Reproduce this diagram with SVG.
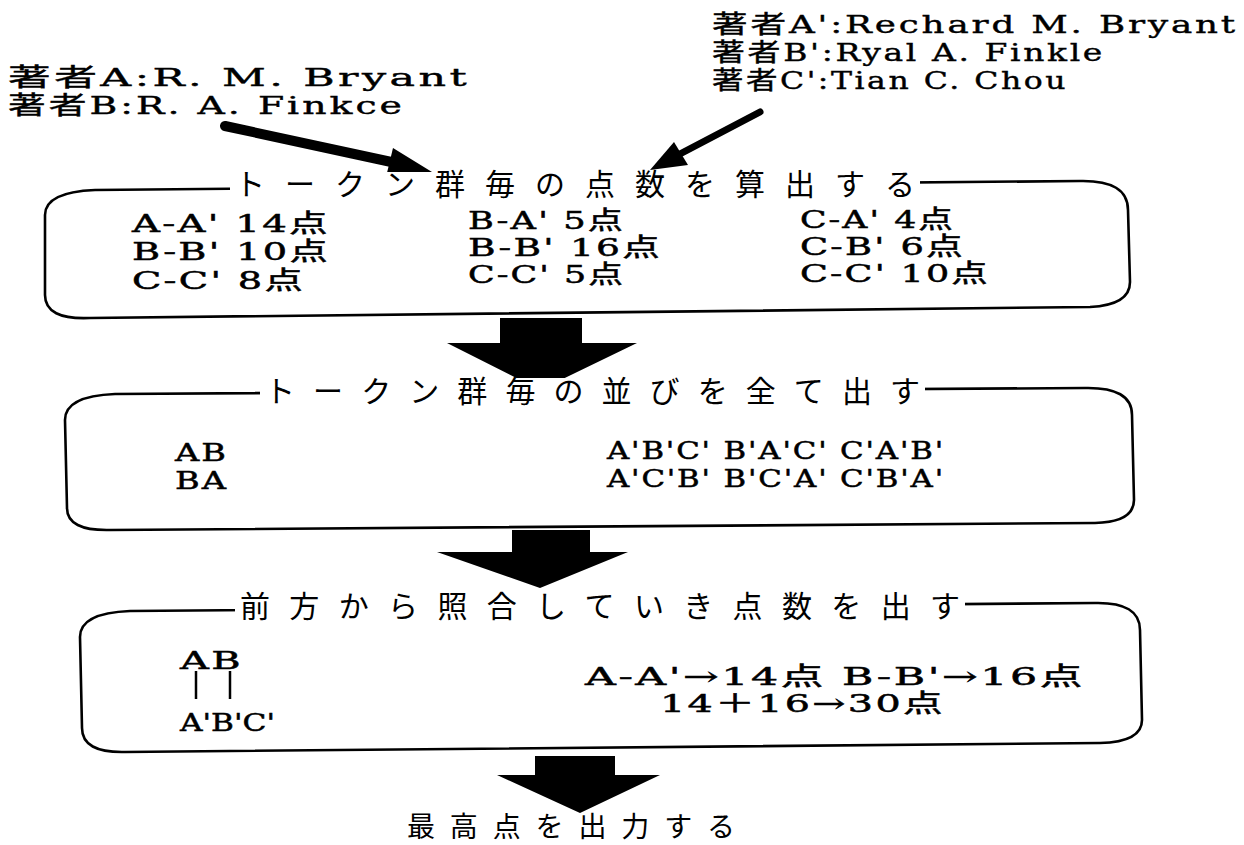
<svg xmlns="http://www.w3.org/2000/svg" width="1244" height="845" viewBox="0 0 1244 845">
<style>
.lat{font-family:"DejaVu Serif","Noto Sans CJK JP",serif;font-size:25px;fill:#000;stroke:#000;stroke-width:0.5;letter-spacing:1.5px}
.top{font-family:"DejaVu Serif","Noto Sans CJK JP",serif;font-size:25px;fill:#000;stroke:#000;stroke-width:0.4;letter-spacing:2px}
.ttl{font-family:"Noto Sans CJK JP",sans-serif;font-size:30px;fill:#000}
.box{fill:none;stroke:#000;stroke-width:2.6}
.gap{fill:#fff}
.blk{fill:#000}
</style>
<rect width="1244" height="845" fill="#fff"/>
<g id="authors-left">
<text class="top" x="8" y="86" textLength="462" lengthAdjust="spacingAndGlyphs">著者A:R. M. Bryant</text>
<text class="top" x="8" y="114" textLength="397" lengthAdjust="spacingAndGlyphs">著者B:R. A. Finkce</text>
</g>
<g id="authors-right">
<text class="top" x="712" y="33" textLength="526" lengthAdjust="spacingAndGlyphs">著者A':Rechard M. Bryant</text>
<text class="top" x="712" y="61" textLength="393" lengthAdjust="spacingAndGlyphs">著者B':Ryal A. Finkle</text>
<text class="top" x="712" y="89" textLength="356" lengthAdjust="spacingAndGlyphs">著者C':Tian C. Chou</text>
</g>
<g id="connectors">
<line x1="225" y1="126" x2="396" y2="163" stroke="#000" stroke-width="10" stroke-linecap="round"/>
<polygon class="blk" points="432,172 393,148 386,177"/>
<line x1="760" y1="112" x2="678" y2="155" stroke="#000" stroke-width="7" stroke-linecap="round"/>
<polygon class="blk" points="650,170 674,142 688,165"/>
<polygon class="blk" points="500,318 582,318 582,343 637,343 540,390 447,343 500,343"/>
<polygon class="blk" points="512,530 590,530 590,552 628,552 540,588 437,552 512,552"/>
<polygon class="blk" points="535,756 615,756 615,775 660,775 580,813 497,775 535,775"/>
</g>
<g id="box1">
<path class="box" d="M95,190 L1080,181 Q1128,180 1128,210 L1130,282 Q1130,305 1090,307 L90,318 Q45,320 45,295 L45,215 Q45,192 95,190 Z"/>
<rect class="gap" x="230" y="172" width="690" height="26"/>
<text class="ttl" x="235" y="195" textLength="680" lengthAdjust="spacing">トークン群毎の点数を算出する</text>
<text class="lat" x="132" y="232" textLength="198" lengthAdjust="spacingAndGlyphs">A-A' 14点</text>
<text class="lat" x="132" y="260" textLength="198" lengthAdjust="spacingAndGlyphs">B-B' 10点</text>
<text class="lat" x="132" y="289" textLength="173" lengthAdjust="spacingAndGlyphs">C-C' 8点</text>
<text class="lat" x="468" y="229" textLength="157" lengthAdjust="spacingAndGlyphs">B-A' 5点</text>
<text class="lat" x="468" y="256" textLength="194" lengthAdjust="spacingAndGlyphs">B-B' 16点</text>
<text class="lat" x="468" y="283" textLength="157" lengthAdjust="spacingAndGlyphs">C-C' 5点</text>
<text class="lat" x="800" y="228" textLength="155" lengthAdjust="spacingAndGlyphs">C-A' 4点</text>
<text class="lat" x="800" y="255" textLength="165" lengthAdjust="spacingAndGlyphs">C-B' 6点</text>
<text class="lat" x="800" y="282" textLength="190" lengthAdjust="spacingAndGlyphs">C-C' 10点</text>
</g>
<g id="box2">
<path class="box" d="M115,394 L1085,388 Q1132,387 1132,415 L1134,500 Q1134,522 1095,523 L110,530 Q67,531 67,508 L65,420 Q65,396 115,394 Z"/>
<rect class="gap" x="260" y="378" width="665" height="26"/>
<text class="ttl" x="265" y="402" textLength="655" lengthAdjust="spacing">トークン群毎の並びを全て出す</text>
<text class="lat" x="175" y="461" textLength="53" lengthAdjust="spacingAndGlyphs">AB</text>
<text class="lat" x="175" y="489" textLength="53" lengthAdjust="spacingAndGlyphs">BA</text>
<text class="lat" x="607" y="459" textLength="338" lengthAdjust="spacingAndGlyphs">A'B'C'  B'A'C'  C'A'B'</text>
<text class="lat" x="607" y="487" textLength="338" lengthAdjust="spacingAndGlyphs">A'C'B'  B'C'A'  C'B'A'</text>
</g>
<g id="box3">
<path class="box" d="M130,611 L1095,603 Q1140,602 1140,630 L1142,720 Q1142,742 1100,743 L125,752 Q82,753 82,728 L80,637 Q80,613 130,611 Z"/>
<rect class="gap" x="235" y="593" width="730" height="26"/>
<text class="ttl" x="240" y="617" textLength="720" lengthAdjust="spacing">前方から照合していき点数を出す</text>
<text class="lat" x="180" y="669" textLength="63" lengthAdjust="spacingAndGlyphs">AB</text>
<line x1="196" y1="671" x2="196" y2="699" stroke="#000" stroke-width="2.5"/>
<line x1="230" y1="671" x2="230" y2="699" stroke="#000" stroke-width="2.5"/>
<text class="lat" x="180" y="731" textLength="95" lengthAdjust="spacingAndGlyphs" style="letter-spacing:0">A'B'C'</text>
<text class="lat" x="585" y="685" textLength="500" lengthAdjust="spacingAndGlyphs">A-A'→14点  B-B'→16点</text>
<text class="lat" x="660" y="712" textLength="285" lengthAdjust="spacingAndGlyphs">14＋16→30点</text>
</g>
<g id="output">
<text class="ttl" x="407" y="837" textLength="328" lengthAdjust="spacing" style="font-size:28px">最高点を出力する</text>
</g>
</svg>
